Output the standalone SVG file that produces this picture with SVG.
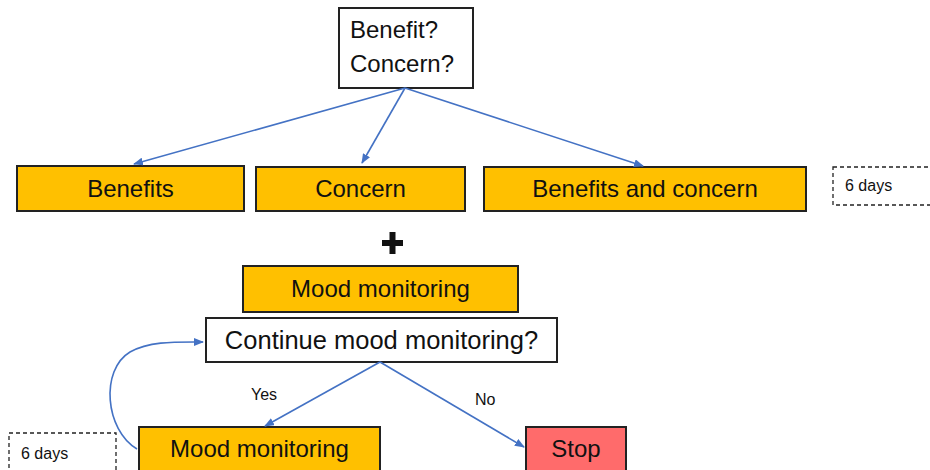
<svg xmlns="http://www.w3.org/2000/svg" width="930" height="470" viewBox="0 0 930 470">
<defs>
<marker id="ah" markerWidth="10" markerHeight="8" refX="9" refY="4" orient="auto" markerUnits="userSpaceOnUse">
<path d="M0,0 L10,4 L0,8 Z" fill="#4472C4"/>
</marker>
<style>
text{font-family:"Liberation Sans","Open Sans",sans-serif;fill:#111}
.o{fill:#FFC000;stroke:#222;stroke-width:2}
.w{fill:#fff;stroke:#222;stroke-width:2}
.r{fill:#FF6B6B;stroke:#222;stroke-width:2}
.d{fill:#fff;stroke:#222;stroke-width:1.3;stroke-dasharray:4 3}
.big{font-size:24px}
.sm{font-size:16px}
.c{stroke:#4472C4;stroke-width:1.6;fill:none;marker-end:url(#ah)}
</style>
</defs>
<rect width="930" height="470" fill="#fff"/>
<g id="question">
<rect class="w" x="339" y="8" width="134" height="80"/>
<text class="big" x="350" y="38">Benefit?</text>
<text class="big" x="350" y="72">Concern?</text>
</g>
<g id="benefits">
<rect class="o" x="17" y="166" width="227" height="45"/>
<text class="big" x="130.5" y="197" text-anchor="middle">Benefits</text>
</g>
<g id="concern">
<rect class="o" x="256" y="167" width="209" height="44"/>
<text class="big" x="360.5" y="197" text-anchor="middle">Concern</text>
</g>
<g id="both">
<rect class="o" x="484" y="167" width="322" height="44"/>
<text class="big" x="645" y="197" text-anchor="middle">Benefits and concern</text>
</g>
<g id="days1">
<rect class="d" x="833" y="167" width="100" height="38"/>
<text class="sm" x="845" y="191">6 days</text>
</g>
<g id="plus">
<path d="M382,243 H403 M392.5,232 V254" stroke="#111" stroke-width="6"/>
</g>
<g id="mood1">
<rect class="o" x="243" y="266" width="275" height="46"/>
<text class="big" x="380.5" y="297" text-anchor="middle">Mood monitoring</text>
</g>
<g id="continue">
<rect class="w" x="206" y="318" width="351" height="44"/>
<text x="381.5" y="349" text-anchor="middle" style="font-size:25.5px">Continue mood monitoring?</text>
</g>
<g id="mood2">
<rect class="o" x="139" y="427" width="241" height="48"/>
<text class="big" x="259.5" y="457" text-anchor="middle">Mood monitoring</text>
</g>
<g id="days2">
<rect class="d" x="9" y="433" width="107" height="40"/>
<text class="sm" x="21" y="459">6 days</text>
</g>
<g id="stop">
<rect class="r" x="526" y="427" width="100" height="48"/>
<text class="big" x="576" y="457" text-anchor="middle">Stop</text>
</g>
<g id="connectors">
<line class="c" x1="405" y1="88" x2="134" y2="164"/>
<line class="c" x1="405" y1="88" x2="362" y2="163"/>
<line class="c" x1="405" y1="88" x2="643" y2="166"/>
<line class="c" x1="380" y1="362" x2="265" y2="426"/>
<line class="c" x1="380" y1="362" x2="524" y2="447"/>
<path class="c" d="M137,449 C105,430 100,370 130,352 C150,341 175,342 203,342"/>
<text class="sm" x="251" y="400">Yes</text>
<text class="sm" x="475" y="405">No</text>
</g>
</svg>
